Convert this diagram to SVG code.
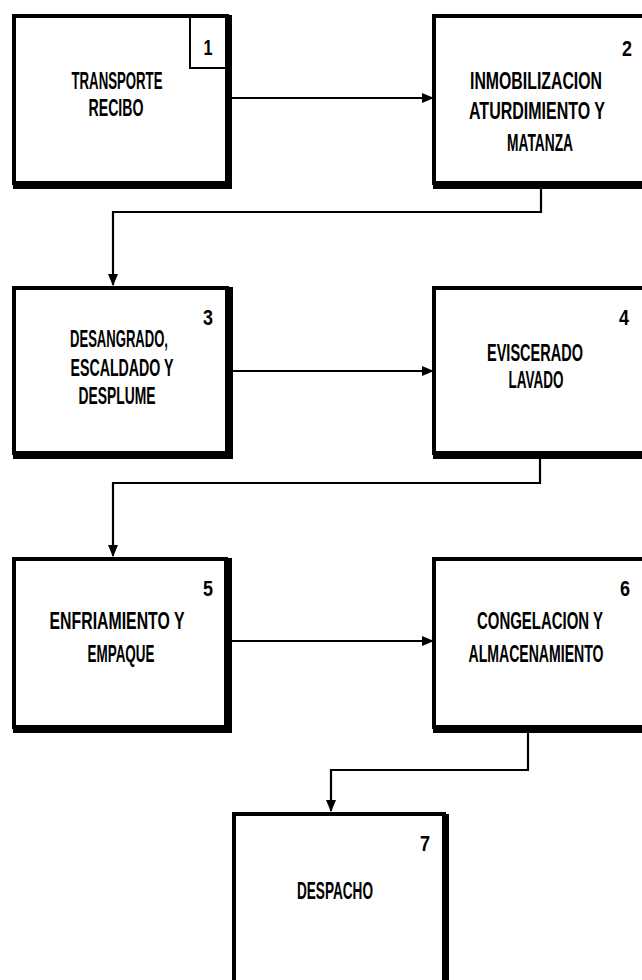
<svg xmlns="http://www.w3.org/2000/svg" width="642" height="980" viewBox="0 0 642 980">
<style>
.box{fill:#fff;stroke:#000;stroke-width:4}
.sh{fill:none;stroke:#000;stroke-width:6;stroke-linecap:square}
.lbl{font-family:"Liberation Sans",Arial,sans-serif;font-weight:bold;font-size:23px;fill:#000;text-anchor:middle}
.num{font-family:"Liberation Sans",Arial,sans-serif;font-weight:bold;font-size:22px;fill:#000;text-anchor:middle}
.con{fill:none;stroke:#000;stroke-width:2.2}
</style>
<defs>
<marker id="ah" markerWidth="12" markerHeight="10" refX="11" refY="5" orient="auto" markerUnits="userSpaceOnUse">
<path d="M0,0 L12,5 L0,10 Z" fill="#000"/>
</marker>
</defs>
<rect width="642" height="980" fill="#fff"/>
<g id="connectors">
<line class="con" x1="232" y1="98" x2="433" y2="98" marker-end="url(#ah)"/>
<polyline class="con" points="541,187 541,212 113,212 113,285" marker-end="url(#ah)"/>
<line class="con" x1="233" y1="371" x2="433" y2="371" marker-end="url(#ah)"/>
<polyline class="con" points="540,457 540,483 113,483 113,556" marker-end="url(#ah)"/>
<line class="con" x1="231" y1="641" x2="433" y2="641" marker-end="url(#ah)"/>
<polyline class="con" points="528,732 528,770 331,770 331,811" marker-end="url(#ah)"/>
</g>
<g id="node1">
<rect class="box" x="14" y="16" width="213" height="167"/>
<polyline class="sh" points="229,18 229,186 16,186"/>
<polyline fill="none" stroke="#000" stroke-width="2" points="190,14 190,68 228,68"/>
<text class="num" x="208" y="55" textLength="9" lengthAdjust="spacingAndGlyphs">1</text>
<text class="lbl" x="117" y="89" textLength="91" lengthAdjust="spacingAndGlyphs">TRANSPORTE</text>
<text class="lbl" x="116" y="116" textLength="55" lengthAdjust="spacingAndGlyphs">RECIBO</text>
</g>
<g id="node2">
<rect class="box" x="434" y="16" width="220" height="167"/>
<line class="sh" x1="436" y1="186" x2="650" y2="186"/>
<text class="num" x="627" y="56" textLength="10" lengthAdjust="spacingAndGlyphs">2</text>
<text class="lbl" x="536" y="89" textLength="132" lengthAdjust="spacingAndGlyphs">INMOBILIZACION</text>
<text class="lbl" x="537" y="119" textLength="136" lengthAdjust="spacingAndGlyphs">ATURDIMIENTO Y</text>
<text class="lbl" x="540" y="151" textLength="66" lengthAdjust="spacingAndGlyphs">MATANZA</text>
</g>
<g id="node3">
<rect class="box" x="14" y="288" width="213" height="165"/>
<polyline class="sh" points="230,290 230,456 16,456"/>
<text class="num" x="208" y="325" textLength="10" lengthAdjust="spacingAndGlyphs">3</text>
<text class="lbl" x="119" y="347" textLength="98" lengthAdjust="spacingAndGlyphs">DESANGRADO,</text>
<text class="lbl" x="122" y="376" textLength="103" lengthAdjust="spacingAndGlyphs">ESCALDADO Y</text>
<text class="lbl" x="117" y="404" textLength="77" lengthAdjust="spacingAndGlyphs">DESPLUME</text>
</g>
<g id="node4">
<rect class="box" x="434" y="288" width="220" height="165"/>
<line class="sh" x1="436" y1="456" x2="650" y2="456"/>
<text class="num" x="624" y="325" textLength="10" lengthAdjust="spacingAndGlyphs">4</text>
<text class="lbl" x="535" y="361" textLength="96" lengthAdjust="spacingAndGlyphs">EVISCERADO</text>
<text class="lbl" x="536" y="388" textLength="55" lengthAdjust="spacingAndGlyphs">LAVADO</text>
</g>
<g id="node5">
<rect class="box" x="14" y="559" width="212" height="168"/>
<polyline class="sh" points="229,561 229,730 16,730"/>
<text class="num" x="208" y="596" textLength="10" lengthAdjust="spacingAndGlyphs">5</text>
<text class="lbl" x="117" y="629" textLength="135" lengthAdjust="spacingAndGlyphs">ENFRIAMIENTO Y</text>
<text class="lbl" x="121" y="662" textLength="67" lengthAdjust="spacingAndGlyphs">EMPAQUE</text>
</g>
<g id="node6">
<rect class="box" x="434" y="559" width="220" height="168"/>
<line class="sh" x1="436" y1="730" x2="650" y2="730"/>
<text class="num" x="625" y="596" textLength="10" lengthAdjust="spacingAndGlyphs">6</text>
<text class="lbl" x="540" y="629" textLength="126" lengthAdjust="spacingAndGlyphs">CONGELACION Y</text>
<text class="lbl" x="536" y="662" textLength="135" lengthAdjust="spacingAndGlyphs">ALMACENAMIENTO</text>
</g>
<g id="node7">
<rect class="box" x="234" y="814" width="210" height="180"/>
<line class="sh" x1="446" y1="817" x2="446" y2="990"/>
<text class="num" x="425" y="851" textLength="10" lengthAdjust="spacingAndGlyphs">7</text>
<text class="lbl" x="335" y="899" textLength="76" lengthAdjust="spacingAndGlyphs">DESPACHO</text>
</g>
</svg>
